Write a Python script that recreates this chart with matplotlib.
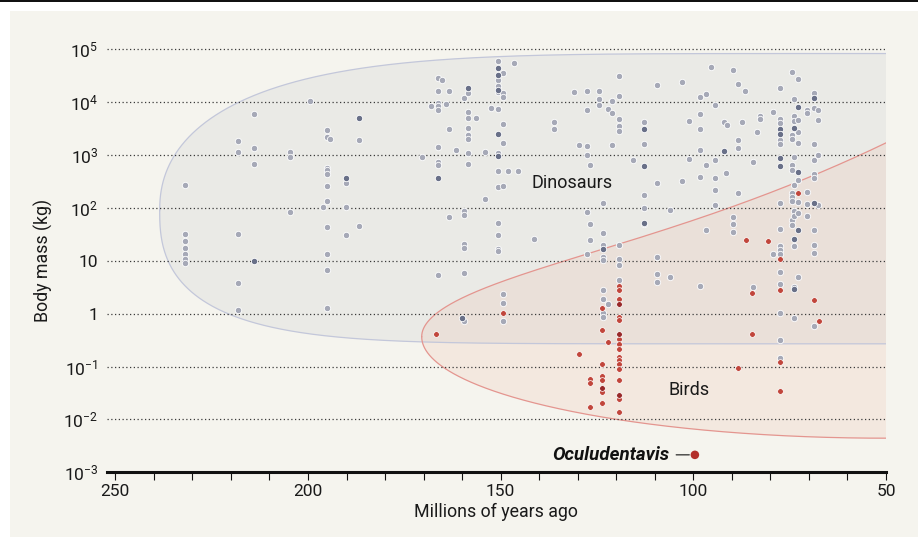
import numpy as np
import matplotlib
matplotlib.use("Agg")
import matplotlib.pyplot as plt
from matplotlib.patches import Rectangle
from matplotlib.ticker import FixedLocator, MultipleLocator

plt.rcParams['font.family'] = ['Roboto', 'DejaVu Sans']
plt.rcParams['mathtext.fontset'] = 'custom'
plt.rcParams['mathtext.rm'] = 'Roboto'
plt.rcParams['mathtext.it'] = 'Roboto:italic'
plt.rcParams['mathtext.bf'] = 'Roboto:bold'

# ── data: age (Myr ago) and log10 body mass (kg), read column by column ──
dino_age = [
    *[231.8] * 7, *[218.2] * 5, *[214.0] * 3, *[204.6] * 3,
    199.5, 196.1,
    *[195.2] * 11, 194.3, *[190.1] * 3, *[186.8] * 2,
    170.3, 168.1,
    *[166.2] * 9, 165.3, 164.3, *[163.3] * 3, 161.5,
    *[159.6] * 7, *[158.6] * 8, 156.3, *[154.0] * 2, 152.6,
    *[150.7] * 12, *[149.3] * 9,
    148.0, 145.5, 146.5, 141.4,
    *[136.2] * 2, 131.0, 129.6,
    *[127.7] * 6, *[126.8] * 3, *[124.4] * 3, *[123.4] * 9,
    *[122.1] * 2, *[121.2] * 3, *[119.2] * 9,
    115.6, *[112.7] * 5, *[109.4] * 5, *[106.1] * 2, *[102.9] * 2,
    *[101.0] * 2, *[98.2] * 6, *[96.7] * 3, 95.4, *[94.4] * 5,
    92.1, 91.3, 91.6,
    *[89.7] * 4, *[88.3] * 4, 87.4, 86.5, *[84.6] * 2, 83.6,
    *[82.7] * 2, *[79.4] * 2,
    *[77.6] * 15, *[74.3] * 10, *[73.9] * 10, *[72.8] * 8,
    *[70.5] * 5, *[68.6] * 10, *[67.6] * 4,
]
dino_log_kg = [
    2.44, 1.50, 1.37, 1.24, 1.13, 1.04, 0.95,
    3.27, 3.06, 1.50, 0.58, 0.07,
    3.78, 3.14, 2.84,
    3.06, 2.97, 1.92,
    4.02, 2.02,
    3.47, 3.35, 2.76, 2.71, 2.64, 2.42, 2.14, 1.63, 1.13, 0.82, 0.10,
    3.31,
    2.48, 2.02, 1.48,
    3.28, 1.65,
    2.96, 3.93,
    4.46, 4.22, 3.99, 3.93, 3.85, 3.15, 2.87, 2.82, 0.73,
    4.42, 3.97,
    4.22, 3.49, 1.83,
    3.10,
    4.08, 1.95, 1.87, 1.32, 1.24, 0.76, -0.13,
    4.17, 3.82, 3.71, 3.51, 3.37, 3.30, 3.03, 2.84,
    3.71,
    3.05, 2.16,
    3.89,
    4.77, 4.41, 4.31, 4.19, 3.87, 3.03, 2.70, 2.39, 1.72, 1.48, 1.23, 1.19,
    4.55, 4.17, 4.10, 3.58, 3.23, 2.42, 0.38, 0.21, -0.13,
    2.70, 2.70, 4.74, 1.42,
    3.63, 3.49,
    4.20, 3.19,
    4.22, 3.85, 3.18, 3.01, 1.92, 1.13,
    2.82, 1.69, 1.39,
    4.22, 4.06, 3.95,
    2.09, 1.52, 1.30, 1.08, 1.01, 0.44, 0.27, 0.02, -0.06,
    3.87, 0.18,
    4.02, 3.80, 3.19,
    4.50, 4.11, 3.69, 3.54, 3.46, 1.29, 1.03, 0.93, 0.64,
    2.90,
    3.62, 3.21, 2.24, 2.00, 1.70,
    4.33, 2.48, 1.08, 0.75, 0.60,
    1.97, 0.69,
    4.39, 2.51,
    3.64, 2.92,
    4.09, 3.78, 3.49, 3.10, 2.58, 0.52,
    4.15, 2.82, 1.59,
    4.67,
    3.95, 2.90, 2.57, 2.33, 2.05,
    3.62, 3.56, 2.66,
    4.61, 1.82, 1.70, 1.54,
    4.34, 3.28, 3.14, 2.29,
    3.63, 4.21,
    2.86, 0.51,
    3.44,
    3.74, 3.68,
    3.82, 1.12,
    4.27, 3.69, 3.60, 3.28, 3.21, 2.09, 1.61, 1.28, 1.20, 1.13, 0.79, 0.56, 0.01, -0.50, -0.83,
    4.57, 3.37, 3.30, 2.81, 2.72, 2.28, 2.20, 2.13, 1.77, 1.68,
    4.06, 3.73, 3.64, 2.97, 2.43, 1.95, 1.85, 1.28, 0.51, -0.09,
    4.44, 3.66, 3.44, 3.23, 2.53, 2.11, 1.90, 0.69,
    3.86, 3.79, 2.31, 2.07, 1.85,
    4.17, 3.89, 3.21, 2.90, 2.64, 2.57, 1.59, 1.30, 1.15, -0.23,
    3.85, 3.66, 3.00, 2.06,
]

# overlapping (stacked) dinosaur records, drawn darker
dino_stack_age = [214.0, 190.1, 186.8, 166.2, 160.1, 158.6,
                  150.7, 150.7, 150.7, 150.7, 150.7, 123.4,
                  112.7, 112.7, 112.7, 92.1, 77.6, 77.6, 77.6, 77.6,
                  73.9, 73.9, 73.9, 72.8, 72.8, 72.8, 68.6, 68.6]
dino_stack_log_kg = [1.00, 2.56, 3.71, 2.57, -0.08, 4.27,
                     4.65, 4.52, 4.23, 3.40, 2.98, 1.22,
                     3.49, 2.79, 1.72, 3.08, 3.49, 3.39, 2.94, 2.80,
                     3.52, 1.41, 0.47, 3.91, 2.68, 1.58, 4.07, 2.10]

bird_age = [166.8, 149.3, 129.7, *[126.9] * 3, *[123.6] * 7, 122.1,
            *[119.2] * 15, 88.4, 86.4, 80.7, *[84.7] * 2, *[77.6] * 4,
            72.8, 68.8, 67.4]
bird_log_kg = [-0.38, 0.02, -0.76,
               -1.23, -1.32, -1.77,
               0.10, -0.30, -0.95, -1.18, -1.25, -1.48, -1.69,
               -0.53,
               0.52, 0.44, 0.28, -0.06, -0.12, -0.48, -0.58, -0.67,
               -0.81, -0.88, -0.95, -1.04, -1.25, -1.61, -1.86,
               -1.03, 1.39, 1.37, 0.40, -0.38, 1.03, 0.44, -0.91, -1.46,
               2.28, 0.25, -0.13]
bird_stack_age = [123.6, 119.2, 119.2, 119.2]
bird_stack_log_kg = [-1.40, 0.19, -0.38, -1.54]

ocul_age = 99.6
ocul_log_kg = -2.67

y_ticks = [1e-3, 1e-2, 1e-1, 1, 10, 1e2, 1e3, 1e4, 1e5]
y_labels = [r'$10^{-3}$', r'$10^{-2}$', r'$10^{-1}$', '1', '10',
            r'$10^{2}$', r'$10^{3}$', r'$10^{4}$', r'$10^{5}$']
x_ticks = [250, 200, 150, 100, 50]

# ── colours ──
BG = '#f5f4ee'
DINO_FILL = '#eaeae6'
DINO_EDGE = '#c3c7da'
BIRD_FILL = '#eebfae'
BIRD_EDGE = '#e4958f'
GREY = '#a6a9b7'
GREY_DARK = '#697088'
RED = '#c1463c'
RED_DARK = '#98292a'
INK = '#1a1a1a'

W, H = 918, 537
fig = plt.figure(figsize=(W / 100, H / 100), dpi=100)
fig.patch.set_facecolor('white')
fig.add_artist(Rectangle((10 / W, 0), 1, (H - 11) / H, transform=fig.transFigure,
                         facecolor=BG, edgecolor='none', zorder=-10))
fig.add_artist(Rectangle((0, 1 - 2.2 / H), 1, 2.2 / H, transform=fig.transFigure,
                         facecolor='#111111', edgecolor='none', zorder=-9))

ax = fig.add_axes([106.7 / W, (H - 472.3) / H, (886 - 106.7) / W, (472.3 - 49.3) / H])
ax.set_facecolor('none')
ax.set_yscale('log')
ax.set_xlim(252.25, 50)
ax.set_ylim(1e-3, 1e5)

# ── envelopes (smooth outlines in age / log-mass space) ──
u = np.linspace(0, 1, 700)
s = 1 - 1.03 * u ** 2
d_age = 50 + 188.5 * s
d_top = 1.95 + 2.97 * (1 - np.abs(s) ** 5) ** 0.45
d_bot = 1.95 - 2.52 * (1 - np.abs(s) ** 7.4) ** 0.39

dd = 125 * u ** 2
b_age = 170.5 - dd
b_top = -0.435 + np.sqrt(dd) * (0.225 + 7.5e-6 * dd ** 2)
b_bot = -0.435 - 1.92 * np.sqrt(np.clip(1 - (1 - dd / 120.5) ** 2, 0, None))

ax.fill(np.r_[d_age, d_age[::-1]], 10 ** np.r_[d_top, d_bot[::-1]],
        facecolor=DINO_FILL, edgecolor='none', zorder=1)
ax.fill(np.r_[b_age, b_age[::-1]], 10 ** np.r_[b_top, b_bot[::-1]],
        facecolor=BIRD_FILL, alpha=0.22, edgecolor='none', zorder=1.2)
ax.plot(d_age, 10 ** d_top, color=DINO_EDGE, lw=0.9, zorder=1.5)
ax.plot(d_age, 10 ** d_bot, color=DINO_EDGE, lw=0.9, zorder=1.5)
ax.plot(b_age, 10 ** b_top, color=BIRD_EDGE, lw=0.9, zorder=1.6)
ax.plot(b_age, 10 ** b_bot, color=BIRD_EDGE, lw=0.9, zorder=1.6)

# dotted gridlines
for yv in y_ticks[1:]:
    ax.axhline(yv, color='#3a3a3a', lw=0.9, ls=(0, (1, 2)), zorder=2, clip_on=False)

# ── points ──
ax.scatter(dino_age, 10 ** np.array(dino_log_kg), s=21, color=GREY,
           edgecolors='white', linewidths=0.6, zorder=3)
ax.scatter(dino_stack_age, 10 ** np.array(dino_stack_log_kg), s=21, color=GREY_DARK,
           edgecolors='white', linewidths=0.6, zorder=3.1)
ax.scatter(bird_age, 10 ** np.array(bird_log_kg), s=17, color=RED,
           edgecolors='white', linewidths=0.5, zorder=3.2)
ax.scatter(bird_stack_age, 10 ** np.array(bird_stack_log_kg), s=17, color=RED_DARK,
           edgecolors='white', linewidths=0.5, zorder=3.3)
ax.scatter([ocul_age], [10 ** ocul_log_kg], s=38, color='#b3302b',
           edgecolors='none', zorder=3.4)

ax.annotate('Oculudentavis', xy=(ocul_age, 10 ** ocul_log_kg), xytext=(-18, 0),
            textcoords='offset points', ha='right', va='center', fontsize=13.5,
            fontweight='bold', style='italic', color='#111111',
            arrowprops=dict(arrowstyle='-', color='#111111', lw=0.8,
                            shrinkA=2.5, shrinkB=4))

ax.text(131.4, 10 ** 2.47, 'Dinosaurs', ha='center', va='center',
        fontsize=13, color=INK, zorder=4)
ax.text(101, 10 ** -1.44, 'Birds', ha='center', va='center',
        fontsize=13, color=INK, zorder=4)

# ── axes styling ──
for side in ('left', 'top', 'right'):
    ax.spines[side].set_visible(False)
ax.spines['bottom'].set_linewidth(2.2)
ax.spines['bottom'].set_color('#111111')
ax.spines['bottom'].set_zorder(5)

ax.xaxis.set_major_locator(FixedLocator(x_ticks))
ax.xaxis.set_minor_locator(MultipleLocator(10))
ax.set_xticklabels([str(v) for v in x_ticks])
ax.tick_params(axis='x', which='both', direction='out', length=6, width=0.8,
               color='#111111', pad=2.5, labelsize=12.5, labelcolor=INK)
ax.yaxis.set_major_locator(FixedLocator(y_ticks))
ax.yaxis.set_minor_locator(FixedLocator([]))
ax.set_yticklabels(y_labels)
ax.tick_params(axis='y', which='both', length=0, pad=6, labelsize=12.5, labelcolor=INK)

ax.set_xlabel('Millions of years ago', fontsize=12.8, color=INK)
ax.xaxis.set_label_coords(0.5, -0.073)
ax.set_ylabel('Body mass (kg)', fontsize=12.8, color=INK)
ax.yaxis.set_label_coords(-0.069, 0.5)

fig.savefig('out.png', dpi=100, facecolor=fig.get_facecolor())
